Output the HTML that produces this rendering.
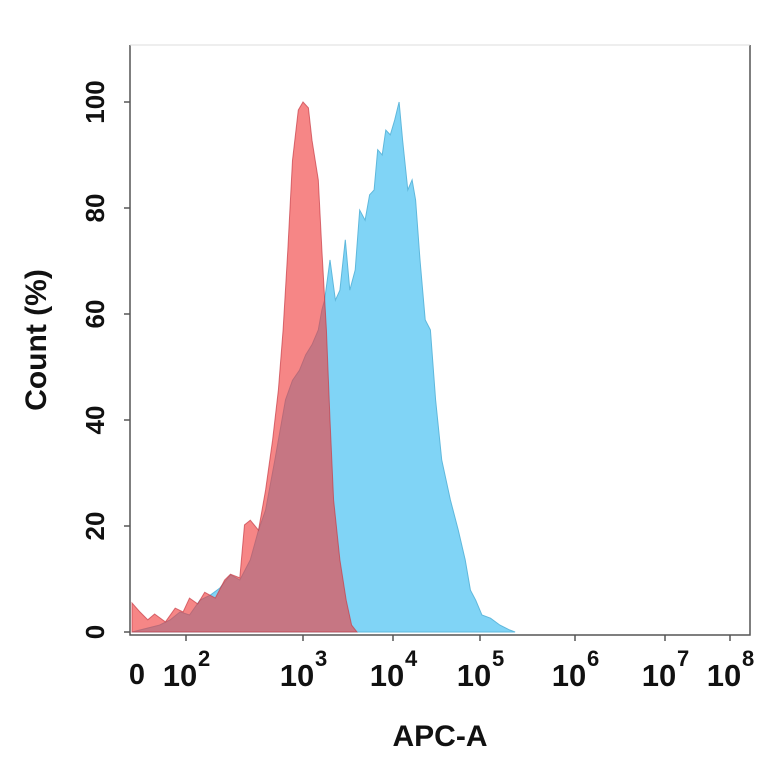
<!DOCTYPE html>
<html><head><meta charset="utf-8"><style>
body{margin:0;background:#fff;}
svg text{font-family:"Liberation Sans",Arial,sans-serif;font-weight:bold;fill:#111;}
</style></head><body>
<svg id="chart" width="764" height="764" viewBox="0 0 764 764" xmlns="http://www.w3.org/2000/svg">
<g id="plot"></g>
</svg>
<script>
const yTicks=[0,20,40,60,80,100];
const xTickLogs=[2,3,4,5,6,7,8];
const redLog=[1.45,1.53,1.61,1.68,1.79,1.89,1.97,2.03,2.10,2.16,2.25,2.33,2.38,2.46,2.50,2.55,2.62,2.68,2.74,2.79,2.83,2.87,2.91,2.96,3.0,3.06,3.10,3.17,3.21,3.26,3.30,3.34,3.41,3.48,3.54,3.60];
const redCount=[5.5,3.8,2.3,3.4,1.9,4.5,3.8,6.4,5.3,7.5,6.4,9.8,10.9,10.2,20.2,21.1,19.2,26.8,36.2,45.7,57,72,89,98.5,100,98.9,92.8,85.3,72,57,40,24.9,13.6,6,1.3,0];
const blueLog=[1.45,1.73,1.84,1.94,2.03,2.12,2.21,2.29,2.38,2.46,2.55,2.62,2.68,2.76,2.85,2.91,2.97,3.03,3.10,3.17,3.21,3.24,3.30,3.36,3.41,3.47,3.52,3.58,3.63,3.69,3.74,3.79,3.83,3.88,3.92,3.97,4.02,4.07,4.11,4.17,4.22,4.26,4.31,4.37,4.43,4.49,4.56,4.66,4.75,4.83,4.89,4.95,5.02,5.11,5.21,5.31,5.37];
const blueCount=[0,1.3,2.3,3.8,3.2,6,7,8.3,10.8,9.8,13.6,19.2,23,32.5,43.8,47.5,49.4,52.3,54.2,57,60.8,62.6,70.2,62.6,64.5,74,64.5,68.3,79.6,77.7,82.5,83.4,91,90,94.7,93.8,96.6,100,92.8,83.4,85.3,81.5,70.2,58.9,57,43.8,32.5,24.9,19.2,13.6,7.9,6,3.2,2.6,1.3,0.4,0];
const axLog=[1.4,1.5,2,3,4,5,6,7,8];
const axPx=[127,137,186,303,393,480,575,665,730];
function xs(v){
  for(let i=0;i<axLog.length-1;i++){
    if(v<=axLog[i+1]||i===axLog.length-2){
      const t=(v-axLog[i])/(axLog[i+1]-axLog[i]);
      return axPx[i]+t*(axPx[i+1]-axPx[i]);
    }
  }
}
function ys(c){return 632-c*5.3;}
const NS="http://www.w3.org/2000/svg";
const g=document.getElementById('plot');
function mk(tag,attrs,parent){const e=document.createElementNS(NS,tag);for(const k in attrs)e.setAttribute(k,attrs[k]);(parent||g).appendChild(e);return e;}
function area(logs,counts,fill,stroke){
  let d="M"+xs(logs[0]).toFixed(1)+","+ys(0);
  for(let i=0;i<logs.length;i++)d+=" L"+xs(logs[i]).toFixed(1)+","+ys(counts[i]).toFixed(1);
  d+=" L"+xs(logs[logs.length-1]).toFixed(1)+","+ys(0)+" Z";
  return mk('path',{d:d,fill:fill,stroke:stroke,'stroke-width':1});
}
const b=area(blueLog,blueCount,'#80d4f6','#5fb8dc');


const r=area(redLog,redCount,'rgba(240,60,60,0.62)','rgba(200,60,70,0.7)');


const fr=mk('path',{d:'M130,45 L130,635 L750,635 L750,45',fill:'none',stroke:'#555','stroke-width':1.5});


mk('line',{x1:130,y1:45,x2:750,y2:45,stroke:'#ddd','stroke-width':1});
yTicks.forEach(v=>{
  mk('line',{x1:124,y1:ys(v),x2:130,y2:ys(v),stroke:'#555','stroke-width':1.5});
  const t=mk('text',{x:0,y:0,'font-size':26,'text-anchor':'middle',transform:`translate(104,${ys(v)}) rotate(-90)`});
  t.textContent=v;
  
  
});
const t0=mk('text',{x:137,y:684,'font-size':29,'text-anchor':'middle'});
t0.textContent='0';


xTickLogs.forEach(v=>{
  const x=xs(v);
  mk('line',{x1:x,y1:635,x2:x,y2:641,stroke:'#555','stroke-width':1.5});
  const t=mk('text',{x:x-6,y:686,'font-size':31,'text-anchor':'middle'});
  t.textContent='10';
  
  
  const s=mk('text',{x:x+12,y:666,'font-size':22,'text-anchor':'start'});
  s.textContent=v;
  
  
});
const xt=mk('text',{x:440,y:746,'font-size':30,'text-anchor':'middle'});
xt.textContent='APC-A';


const yt=mk('text',{x:0,y:0,'font-size':30,'text-anchor':'middle',transform:'translate(46,340) rotate(-90)'});
yt.textContent='Count  (%)';


</script>
</body></html>
